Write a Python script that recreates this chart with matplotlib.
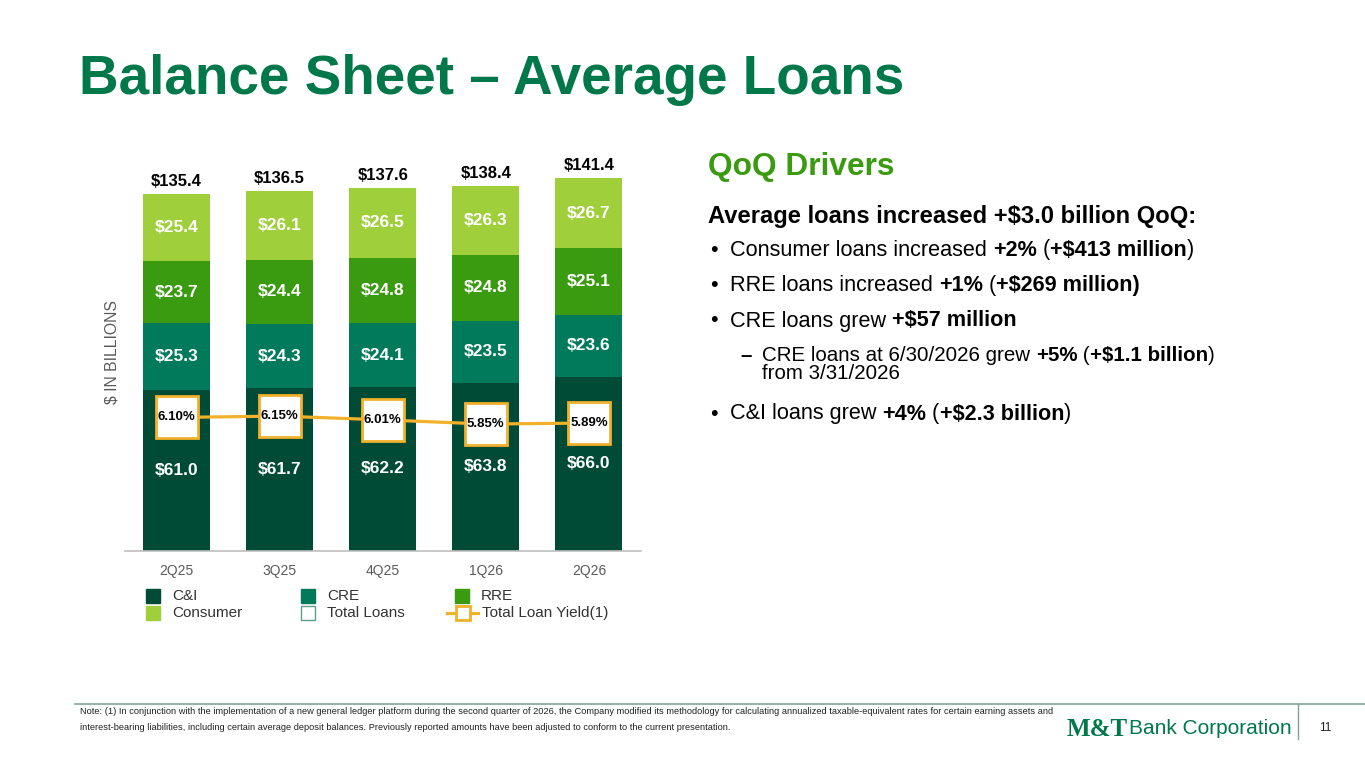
import matplotlib
matplotlib.use("Agg")
import matplotlib.pyplot as plt
from matplotlib.patches import Rectangle
from matplotlib.lines import Line2D
import numpy as np

plt.rcParams['font.family'] = ['Liberation Sans', 'DejaVu Sans']

# ---- data ----
quarters = ["2Q25", "3Q25", "4Q25", "1Q26", "2Q26"]
c_and_i = [61.0, 61.7, 62.2, 63.8, 66.0]
cre = [25.3, 24.3, 24.1, 23.5, 23.6]
rre = [23.7, 24.4, 24.8, 24.8, 25.1]
consumer = [25.4, 26.1, 26.5, 26.3, 26.7]
totals = [135.4, 136.5, 137.6, 138.4, 141.4]
yields = [6.10, 6.15, 6.01, 5.85, 5.89]

# colours
C_CI = "#004B35"
C_CRE = "#007A5A"
C_RRE = "#3A9A10"
C_CONS = "#9FCF3A"
C_YLD = "#F2B12B"
C_TITLE = "#00784A"
GRAY = "#595959"

fig = plt.figure(figsize=(13.65, 7.68), dpi=100)
W, H = 1365, 768


def fx(px):
    return px / W


def fy(py):
    return 1 - py / H


# ---- bar chart ----
ax = fig.add_axes([fx(125), fy(551), fx(640.5) - fx(125), fy(150) - fy(551)])
x = np.arange(len(quarters))
bw = 0.65
bottom = np.zeros(len(quarters))
for vals, col in [(c_and_i, C_CI), (cre, C_CRE), (rre, C_RRE), (consumer, C_CONS)]:
    vals = np.array(vals)
    ax.bar(x, vals, bw, bottom=bottom, color=col, zorder=2)
    for xi, b, v in zip(x, bottom, vals):
        ax.text(xi, b + v / 2, f"${v:.1f}", ha="center", va="center",
                color="white", fontsize=12.5, fontweight="bold", zorder=3)
    bottom = bottom + vals

for xi, t in zip(x, totals):
    ax.text(xi, t + 1.8, f"${t:.1f}", ha="center", va="bottom",
            color="black", fontsize=12, fontweight="bold")

ax.set_xlim(-0.5, len(quarters) - 0.5)
ax.set_ylim(0, 152)
ax.set_xticks(x)
ax.set_xticklabels(quarters, color=GRAY, fontsize=10)
ax.tick_params(axis="x", length=0, pad=9)
ax.set_yticks([])
for s in ["top", "right", "left"]:
    ax.spines[s].set_visible(False)
ax.spines["bottom"].set_color("#BFBFBF")
ax.spines["bottom"].set_linewidth(1.2)

# yield line on secondary axis
ax2 = ax.twinx()
ax2.plot(x, yields, color=C_YLD, lw=2.3, zorder=4, marker="s", markersize=30,
         markerfacecolor="white", markeredgecolor=C_YLD, markeredgewidth=2)
for xi, yv in zip(x, yields):
    ax2.text(xi, yv, f"{yv:.2f}%", ha="center", va="center", fontsize=9.5,
             fontweight="bold", color="black", zorder=5)
ax2.set_ylim(1.09, 16.13)
ax2.axis("off")

fig.text(fx(112), fy(352), "$ IN BILLIONS", rotation=90, ha="center",
         va="center", color=GRAY, fontsize=11.3)

# legend (drawn by hand to match the slide layout)
legend_items = [
    (146, 596, C_CI, C_CI, "C&I"),
    (146, 613, C_CONS, C_CONS, "Consumer"),
    (301, 596, C_CRE, C_CRE, "CRE"),
    (301, 613, "white", "#5E9C8A", "Total Loans"),
    (455, 596, C_RRE, C_RRE, "RRE"),
]
for lx, ly, fc, ec, lab in legend_items:
    fig.add_artist(Rectangle((fx(lx), fy(ly + 7)), 14 / W, 14 / H, fc=fc,
                             ec=ec, lw=1, transform=fig.transFigure))
    fig.text(fx(lx + 26), fy(ly), lab, fontsize=11, color="#333333",
             ha="left", va="center")
fig.add_artist(Line2D([fx(447), fx(478)], [fy(613), fy(613)], color=C_YLD,
                      lw=2.3))
fig.add_artist(Line2D([fx(462.5)], [fy(613)], color=C_YLD, marker="s",
                      markersize=10, markerfacecolor="white",
                      markeredgecolor=C_YLD, markeredgewidth=2, lw=0))
fig.text(fx(482), fy(613), "Total Loan Yield(1)", fontsize=11,
         color="#333333", ha="left", va="center")

# ---- title ----
fig.text(fx(79), fy(80), "Balance Sheet \u2013 Average Loans", color=C_TITLE,
         fontsize=39.5, fontweight="bold", ha="left", va="center")

# ---- right side text ----
renderer = fig.canvas.get_renderer()


def runs(px, py, parts, size, color="black", va="center", **kw):
    cur = px
    for txt, bold in parts:
        t = fig.text(fx(cur), fy(py), txt, fontsize=size, color=color,
                     fontweight="bold" if bold else "normal",
                     ha="left", va=va, **kw)
        cur = cur + t.get_window_extent(renderer).width


fig.text(fx(708), fy(167), "QoQ Drivers", color=C_RRE, fontsize=22.8,
         fontweight="bold", ha="left", va="center")
runs(708, 217, [("Average loans increased +$3.0 billion QoQ:", True)], 17.1)

bsize = 15.6
bullets = [
    (250, [("Consumer loans increased ", False), ("+2%", True), (" (", False),
           ("+$413 million", True), (")", False)]),
    (286, [("RRE loans increased ", False), ("+1%", True), (" (", False),
           ("+$269 million)", True)]),
    (321, [("CRE loans grew ", False), ("+$57 million", True)]),
    (414, [("C&I loans grew ", False), ("+4%", True), (" (", False),
           ("+$2.3 billion", True), (")", False)]),
]
for py, parts in bullets:
    fig.text(fx(710), fy(py), "\u2022", fontsize=bsize, ha="left", va="center")
    runs(730, py, parts, bsize)

# sub-bullet: two lines, first run carries the wrapped second line
ssize = 14.8
fig.text(fx(740), fy(346), "\u2013", fontsize=ssize, fontweight="bold",
         ha="left", va="top")
runs(762, 346, [("CRE loans at 6/30/2026 grew \nfrom 3/31/2026", False),
                ("+5%", True), (" (", False), ("+$1.1 billion", True),
                (")", False)], ssize, va="top", linespacing=0.92)

# ---- footer ----
fig.add_artist(Line2D([fx(75), fx(1365)], [fy(704), fy(704)],
                      color="#7FA596", lw=1.2))
fig.add_artist(Line2D([fx(1298), fx(1298)], [fy(704), fy(739)],
                      color="#7FA596", lw=1))
note1 = ("Note: (1) In conjunction with the implementation of a new general ledger "
         "platform during the second quarter of 2026, the Company modified its "
         "methodology for calculating annualized taxable-equivalent rates for certain "
         "earning assets and")
note2 = ("interest-bearing liabilities, including certain average deposit balances. "
         "Previously reported amounts have been adjusted to conform to the current "
         "presentation.")
fig.text(fx(80), fy(712), note1, fontsize=6.65, ha="left", va="center",
         color="#222222")
fig.text(fx(80), fy(727), note2, fontsize=6.65, ha="left", va="center",
         color="#222222")

t = fig.text(fx(1067), fy(729), "M&T", fontsize=18, fontweight="bold",
             family=["Liberation Serif"], color=C_TITLE, ha="left", va="center")
wl = t.get_window_extent(renderer).width
fig.text(fx(1067 + wl + 1), fy(729), "Bank Corporation", fontsize=15,
         color=C_TITLE, ha="left", va="center")
fig.text(fx(1325), fy(728), "11", fontsize=8.5, ha="center", va="center",
         color="#222222")

fig.savefig("out.png", dpi=100)
